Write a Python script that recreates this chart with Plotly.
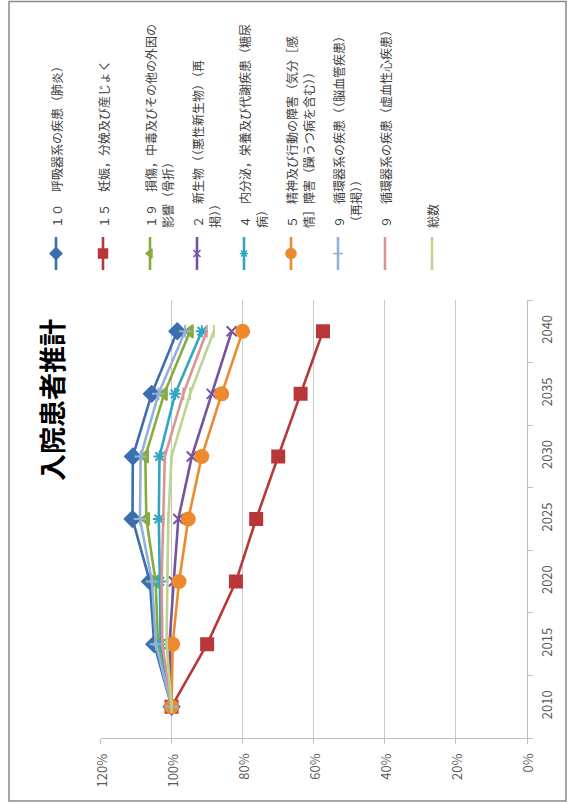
import plotly.graph_objects as go

W, H = 576, 805

years = ["2010", "2015", "2020", "2025", "2030", "2035", "2040"]
pct_ticks = [0, 20, 40, 60, 80, 100, 120]

# Index of inpatients (2010 = 100%) by disease group
s_resp = [100, 104.9, 106.1, 111.0, 110.9, 105.6, 98.4]      # 10 respiratory (pneumonia)
s_preg = [100, 90.0, 81.9, 76.2, 70.0, 63.7, 57.4]           # 15 pregnancy / childbirth
s_injury = [100, 103.8, 104.5, 107.1, 107.4, 102.1, 94.8]    # 19 injury (fracture)
s_neo = [100, 100.6, 99.4, 98.1, 94.3, 88.7, 83.1]           # 2 neoplasms
s_endo = [100, 103.1, 103.3, 103.6, 103.4, 99.0, 91.5]       # 4 endocrine (diabetes)
s_mental = [100, 99.7, 97.9, 95.3, 91.5, 85.9, 80.0]         # 5 mental (mood disorders)
s_cereb = [100, 104.4, 105.5, 108.9, 108.7, 103.7, 96.2]     # 9 cerebrovascular
s_ihd = [100, 102.6, 102.8, 102.3, 101.9, 96.7, 90.1]        # 9 ischemic heart disease
s_total = [100, 101.4, 101.2, 100.9, 100.0, 94.8, 88.1]      # total

series = [s_resp, s_preg, s_injury, s_neo, s_endo, s_mental, s_cereb, s_ihd, s_total]

labels = [
    "１０　呼吸器系の疾患（肺炎）",
    "１５　妊娠，分娩及び産じょく",
    "１９　損傷，中毒及びその他の外因の<br>影響（骨折）",
    "２　新生物（（悪性新生物）（再<br>掲））",
    "４　内分泌，栄養及び代謝疾患（糖尿<br>病）",
    "５　精神及び行動の障害（気分［感<br>情］障害（躁うつ病を含む））",
    "９　循環器系の疾患（（脳血管疾患）<br>（再掲））",
    "９　循環器系の疾患（虚血性心疾患）",
    "総数",
]

colors = ["#3A6FB0", "#B8383A", "#86AD3C", "#7553A0", "#31A6C2",
          "#EE8A2E", "#93B1DA", "#DC9493", "#B9D58E"]
symbols = ["diamond", "square", "triangle-left", "x-thin-open", "asterisk-open",
           "circle", "cross-thin-open", "line-ns-open", "line-ns-open"]
msizes = [12, 12, 11, 10, 10, 13, 9, 9, 9]

title = "入院患者推計"
jp_font = "Noto Sans CJK JP"

# plot-area geometry in pixels
X0, X1 = 100.5, 527.0
Y0, Y1 = 300.0, 738.0


def px(x):
    return x / W


def py(y):
    return 1 - y / H


fig = go.Figure()

for vals, name, col, sym, ms in zip(series, labels, colors, symbols, msizes):
    fig.add_trace(go.Scatter(
        x=vals, y=years, mode="lines+markers", name=name.replace("<br>", ""),
        line=dict(color=col, width=2.6),
        marker=dict(symbol=sym, size=ms, color=col, line=dict(color=col, width=2)),
        showlegend=False, xaxis="x", yaxis="y",
    ))

# hand-built legend, laid out vertically along the top
col_x0, col_dx, line_dx = 56, 47, 17
for i, (name, col, sym, ms) in enumerate(zip(labels, colors, symbols, msizes)):
    cx = col_x0 + col_dx * i
    fig.add_trace(go.Scatter(
        x=[cx, cx], y=[237, 270], mode="lines",
        line=dict(color=col, width=2.6), showlegend=False,
        xaxis="x2", yaxis="y2", hoverinfo="skip",
    ))
    if i < 7:
        fig.add_trace(go.Scatter(
            x=[cx], y=[253.5], mode="markers",
            marker=dict(symbol=sym, size=max(ms - 3, 7), color=col,
                        line=dict(color=col, width=1.5)),
            showlegend=False, xaxis="x2", yaxis="y2", hoverinfo="skip",
        ))
    for k, part in enumerate(name.split("<br>")):
        fig.add_annotation(
            x=px(cx + line_dx * k), y=py(230), xref="paper", yref="paper",
            xanchor="center", yanchor="bottom", align="left",
            text=part, textangle=-90, showarrow=False,
            font=dict(family=jp_font, size=12, color="#404040"),
        )

# value-axis labels, turned to read upward
for v in pct_ticks:
    fig.add_annotation(
        x=v, y=py(752), xref="x", yref="paper",
        xanchor="center", yanchor="top",
        text=f"{v}%", textangle=-90, showarrow=False,
        font=dict(family=jp_font, size=13, color="#595959"),
    )

# title
fig.add_annotation(
    x=px(51), y=py(400), xref="paper", yref="paper",
    xanchor="center", yanchor="middle", text="<b>" + title + "</b>",
    textangle=-90, showarrow=False,
    font=dict(family=jp_font, size=27, color="#000000"),
)

# outer frame
fig.add_shape(type="rect", xref="paper", yref="paper",
              x0=px(9), x1=px(566), y0=py(801), y1=py(1.5),
              line=dict(color="#8A8A8A", width=1.5))

fig.update_layout(
    width=W, height=H,
    margin=dict(l=0, r=0, t=0, b=0),
    paper_bgcolor="white", plot_bgcolor="rgba(0,0,0,0)",
    xaxis=dict(
        domain=[px(X0), px(X1)], range=[120, 0],
        tickvals=pct_ticks, showticklabels=False,
        ticks="outside", ticklen=5, tickcolor="#BFBFBF",
        showgrid=True, gridcolor="#C9C9C9", gridwidth=1.3,
        showline=True, linecolor="#BFBFBF", linewidth=1.3,
        zeroline=False, anchor="y",
    ),
    yaxis=dict(
        domain=[py(Y1), py(Y0)], type="category", categoryorder="array",
        categoryarray=years, range=[-0.5, 6.5], side="right",
        tickson="boundaries", ticks="outside", ticklen=5, tickcolor="#BFBFBF",
        tickangle=-90, ticklabelstandoff=8,
        showgrid=False, showline=True, linecolor="#BFBFBF", linewidth=1.3,
        zeroline=False, anchor="x",
        tickfont=dict(family=jp_font, size=13, color="#595959"),
    ),
    xaxis2=dict(domain=[0, 1], range=[0, W], visible=False, anchor="y2",
                fixedrange=True),
    yaxis2=dict(domain=[0, 1], range=[H, 0], visible=False, anchor="x2",
                fixedrange=True),
    showlegend=False,
)

fig.write_html("out.html")
